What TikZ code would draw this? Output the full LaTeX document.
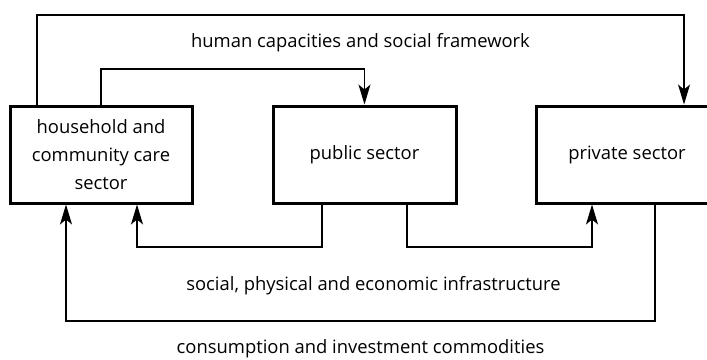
\documentclass[tikz,border=0pt]{standalone}
\usepackage{fontspec}
\setmainfont{Open Sans}
\usetikzlibrary{arrows.meta}
\begin{document}
\begin{tikzpicture}[x=1pt,y=-1pt,
  sector/.style={draw,line width=3pt,minimum height=97pt,inner sep=0pt,align=center,font=\fontsize{18.4}{28}\selectfont},
  conn/.style={line width=1.3pt},
  arr/.style={conn,-{Stealth[length=20pt,width=12pt,inset=5pt]}},
  lab/.style={font=\fontsize{18.4}{20}\selectfont,inner sep=0pt}]
\useasboundingbox (0,0) rectangle (707,359);
\clip (0,0) rectangle (707,359);
\node[sector,minimum width=182pt] (H) at (101,154.5) {household and\\community care\\sector};
\node[sector,minimum width=183pt] (P) at (364.5,154.5) {public sector};
\node[sector,minimum width=182pt] (R) at (627,154.5) {private sector};
% top outer
\coordinate (t1) at (37,15);
\coordinate (t2) at (684,15);
\draw[arr] (t1 |- H.north) -- (t1) -- (t2) -- (t2 |- R.north);
% top inner
\coordinate (u1) at (101,69);
\coordinate (u2) at (364.5,69);
\draw[arr] (u1 |- H.north) -- (u1) -- (u2) -- (u2 |- P.north);
% lower inner left
\coordinate (b1) at (322,247);
\coordinate (b2) at (137,247);
\draw[arr] (b1 |- P.south) -- (b1) -- (b2) -- (b2 |- H.south);
% lower inner right
\coordinate (c1) at (407,247);
\coordinate (c2) at (592,247);
\draw[arr] (c1 |- P.south) -- (c1) -- (c2) -- (c2 |- R.south);
% lower outer
\coordinate (d1) at (655,321);
\coordinate (d2) at (66,321);
\draw[arr] (d1 |- R.south) -- (d1) -- (d2) -- (d2 |- H.south);
\node[lab] (L1) at (360.5,43) {human capacities and social framework};
\node[lab] (L2) at (373.5,286) {social, physical and economic infrastructure};
\node[lab] (L3) at (360.5,349) {consumption and investment commodities};
\end{tikzpicture}
\end{document}
